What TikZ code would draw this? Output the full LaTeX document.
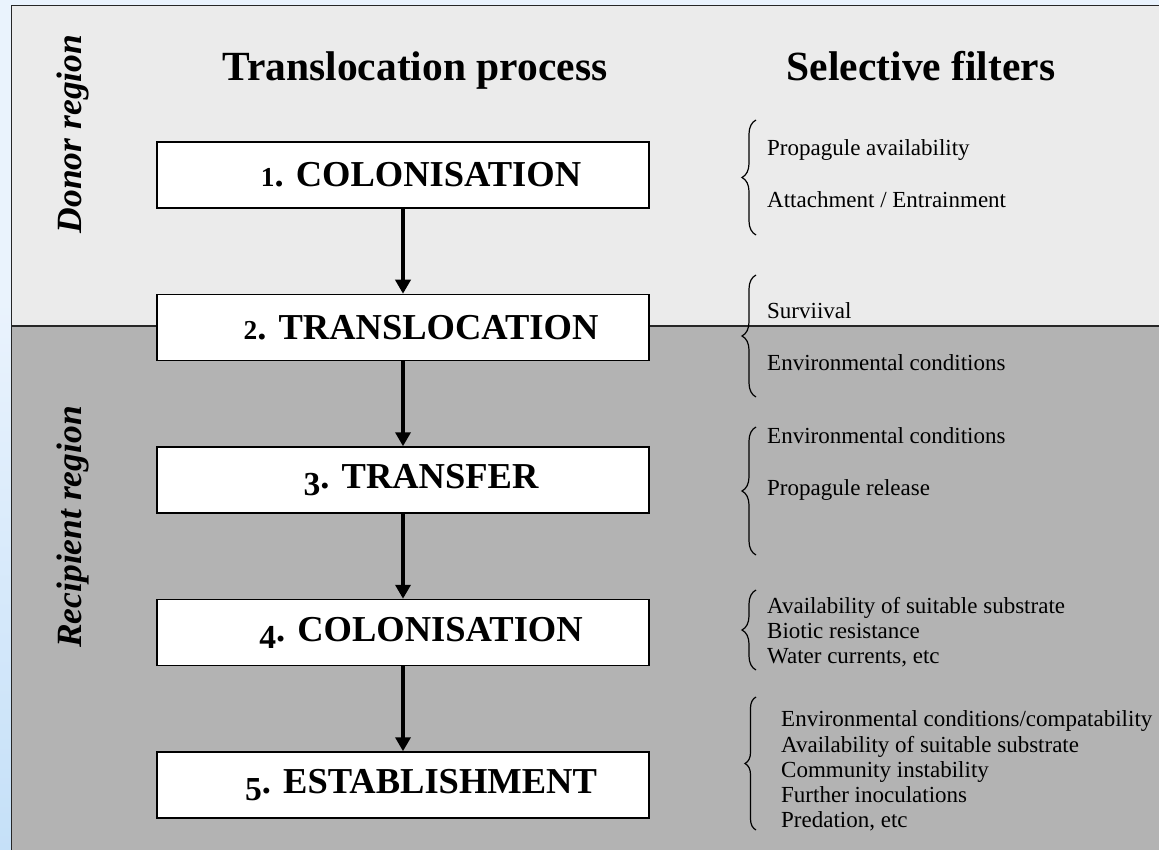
\documentclass[tikz,border=0pt]{standalone}
\usepackage{fontspec}
\setmainfont{Liberation Serif}
\usepackage{graphicx}
\usepackage{tikz}
\usetikzlibrary{arrows.meta, positioning, decorations.pathreplacing}
\definecolor{donorgray}{RGB}{235, 235, 235}
\definecolor{recipgray}{RGB}{179, 179, 179}
\definecolor{slideblue}{RGB}{234, 243, 253}
\definecolor{slidedeep}{RGB}{197, 224, 248}
% old-style looking stage numbers
\newcommand{\smallnum}[1]{\scalebox{0.75}{#1}}
\newcommand{\lownum}[1]{\raisebox{-7pt}{\scalebox{0.92}{#1}}}

\begin{document}
\begin{tikzpicture}[x=1pt, y=-1pt, >=Stealth,
  stage/.style={draw=black, line width=1.5pt, fill=white, inner sep=0pt,
    minimum width=492pt, minimum height=66pt,
    font=\fontsize{36.5}{38}\selectfont\bfseries},
  flow/.style={line width=3.5pt, -{Triangle[length=14pt, width=15pt]}},
  heading/.style={anchor=base, font=\fontsize{41.5}{44}\selectfont\bfseries},
  region/.style={rotate=90, font=\fontsize{35.5}{38}\selectfont\bfseries\itshape},
  filter/.style={anchor=base west, inner sep=0pt,
    font=\fontsize{23}{25}\selectfont},
  sieve/.style={decorate, decoration={brace, amplitude=14pt}, line width=1.2pt},
  node distance=85pt]

  % --- page and the two regions ---
  \useasboundingbox (0,0) rectangle (1159,850);
  \fill[slideblue] (0,0) rectangle (1159,850);
  \shade[top color=slideblue, bottom color=slidedeep] (0,300) rectangle (11,850);
  \fill[donorgray] (11,5) rectangle (1159,326);
  \fill[recipgray] (11,326) rectangle (1159,850);
  \draw[line width=1.6pt, black!85] (1159,5.5) -- (11.5,5.5) -- (11.5,850);
  \draw[line width=1.5pt, black!85] (11,326) -- (1159,326);

  % --- side labels and column titles ---
  \node[region] (donor) at (73,134) {Donor region};
  \node[region] (recipient) at (73,527) {Recipient region};
  \node[heading] (process) at (415,81) {Translocation process};
  \node[heading] (filters) at (921,81) {Selective filters};

  % --- translocation stages ---
  \node[stage] (s1) at (403,175) {\hspace*{36pt}\smallnum{1}. COLONISATION};
  \node[stage, below=of s1] (s2) {\hspace*{36pt}\smallnum{2}. TRANSLOCATION};
  \node[stage, below=of s2] (s3) {\hspace*{36pt}\lownum{3}. TRANSFER};
  \node[stage, below=of s3] (s4) {\hspace*{36pt}\lownum{4}. COLONISATION};
  \node[stage, below=of s4] (s5) {\hspace*{36pt}\lownum{5}. ESTABLISHMENT};

  \foreach \a/\b in {s1/s2, s2/s3, s3/s4, s4/s5}
    \draw[flow] (\a) -- (\b);

  % --- filters acting on each stage ---
  \draw[sieve] (756,235) -- (756,120);
  \node[filter] (f1a) at (767,156) {Propagule availability};
  \node[filter] (f1b) at (767,208) {Attachment / Entrainment};

  \draw[sieve] (756,397) -- (756,275);
  \node[filter] (f2a) at (767,318) {Surviival};
  \node[filter] (f2b) at (767,370) {Environmental conditions};

  \draw[sieve] (756,555) -- (756,427);
  \node[filter] (f3a) at (767,443) {Environmental conditions};
  \node[filter] (f3b) at (767,495) {Propagule release};

  \draw[sieve] (756,670) -- (756,590);
  \node[filter] (f4a) at (767,613) {Availability of suitable substrate};
  \node[filter] (f4b) at (767,638) {Biotic resistance};
  \node[filter] (f4c) at (767,663) {Water currents, etc};

  \draw[sieve, decoration={amplitude=11pt}] (756,830) -- (756,697);
  \node[filter] (f5a) at (781,726) {Environmental conditions/compatability};
  \node[filter] (f5b) at (781,752) {Availability of suitable substrate};
  \node[filter] (f5c) at (781,777) {Community instability};
  \node[filter] (f5d) at (781,802) {Further inoculations};
  \node[filter] (f5e) at (781,827) {Predation, etc};

\end{tikzpicture}
\end{document}
